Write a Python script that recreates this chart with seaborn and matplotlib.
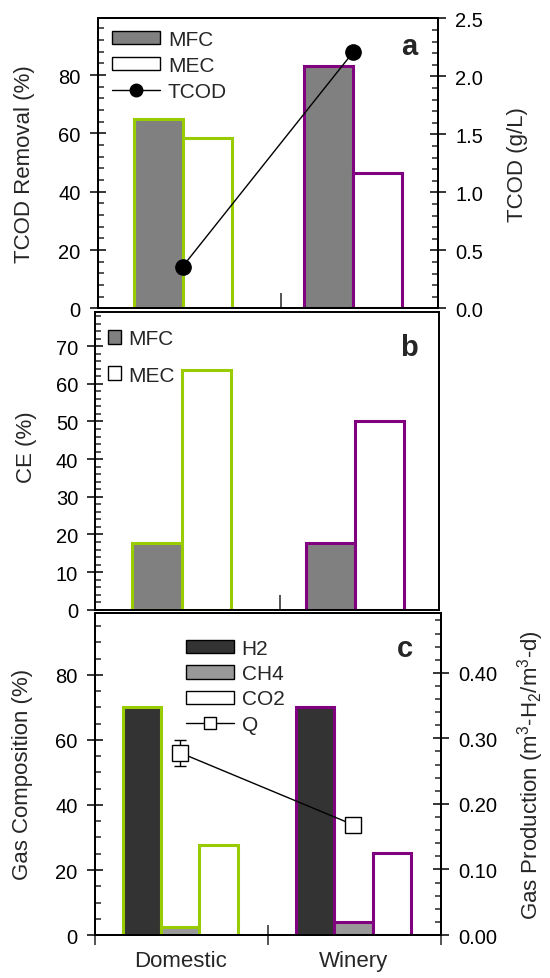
import pandas as pd
import seaborn as sns
import matplotlib.pyplot as plt
from matplotlib.patches import Patch
from matplotlib.lines import Line2D
from matplotlib.ticker import (MultipleLocator, FixedLocator, FixedFormatter,
                               NullFormatter, NullLocator, FormatStrFormatter)

# Values
wastewater = ["Domestic", "Winery"]
cells = ["MFC", "MEC"]
tcod_removal_mfc = [65.0, 83.2]
tcod_removal_mec = [58.3, 46.6]
tcod_conc = [0.36, 2.21]
tcod_conc_err = [0.0, 0.04]
ce_mfc = [17.8, 17.8]
ce_mec = [63.8, 50.0]
gases = ["H2", "CH4", "CO2"]
h2_pct = [70.0, 70.0]
ch4_pct = [2.5, 4.1]
co2_pct = [27.7, 25.1]
q_rate = [0.278, 0.168]
q_err = [0.0195, 0.004]

green = "#99cc00"
purple = "#800080"
edge_colors = [green, purple]

sns.set_style("ticks")
plt.rcParams["font.family"] = ["Liberation Sans", "DejaVu Sans"]
plt.rcParams["mathtext.fontset"] = "custom"
plt.rcParams["mathtext.rm"] = "Liberation Sans"
plt.rcParams["mathtext.it"] = "Liberation Sans:italic"
plt.rcParams["mathtext.default"] = "regular"
plt.rcParams["axes.linewidth"] = 1.4
plt.rcParams["axes.edgecolor"] = "black"

TICK_FS = 14.5
LABEL_FS = 16
LEG_FS = 15


def draw_bars(ax, series, values, fills, width):
    df = pd.DataFrame({
        "Wastewater": wastewater * len(series),
        "Series": [s for s in series for _ in wastewater],
        "Value": [v for vals in values for v in vals],
    })
    sns.barplot(data=df, x="Wastewater", y="Value", hue="Series",
                order=wastewater, hue_order=series,
                palette=dict(zip(series, fills)), width=width,
                saturation=1, errorbar=None, legend=False, ax=ax)
    for cont in ax.containers:
        for bar, ec in zip(cont, edge_colors):
            bar.set_edgecolor(ec)
            bar.set_linewidth(2.2)


def style_y(ax, major, minor, fmt=None):
    ax.yaxis.set_major_locator(MultipleLocator(major))
    ax.yaxis.set_minor_locator(MultipleLocator(minor))
    if fmt:
        ax.yaxis.set_major_formatter(FormatStrFormatter(fmt))
    ax.tick_params(axis="y", which="major", direction="inout", length=11,
                   width=1.1, labelsize=TICK_FS, pad=7, colors="black")
    ax.tick_params(axis="y", which="minor", direction="in", length=4.5,
                   width=1.1)


fig = plt.figure(figsize=(5.5, 9.79), dpi=100)
ax_a = fig.add_axes([0.1782, 0.6839, 0.6182, 0.2964])
ax_b = fig.add_axes([0.1736, 0.3761, 0.6245, 0.3039])
ax_c = fig.add_axes([0.1727, 0.0439, 0.6291, 0.3294])

# ---- panel a: TCOD removal ----
draw_bars(ax_a, cells, [tcod_removal_mfc, tcod_removal_mec],
          ["#808080", "white"], 0.574)
ax_a.set_xlim(-0.495, 1.496)
ax_a.set_ylim(0, 99.5)
style_y(ax_a, 20, 4)
ax_a.xaxis.set_major_locator(FixedLocator([0.575]))
ax_a.xaxis.set_minor_locator(NullLocator())
ax_a.tick_params(axis="x", which="major", direction="in", length=11,
                 width=1.1, labelbottom=False)
ax_a.set_xlabel("")
ax_a.set_ylabel("TCOD Removal (%)", fontsize=LABEL_FS, va="center")
ax_a.yaxis.set_label_coords(-0.215, 0.5)

ax_a2 = ax_a.twinx()
ax_a2.errorbar([0, 1], tcod_conc, yerr=tcod_conc_err, color="black",
               marker="o", ms=11, lw=1, elinewidth=1, capsize=4)
ax_a2.set_ylim(0, 2.5)
style_y(ax_a2, 0.5, 0.1, "%.1f")
ax_a2.set_ylabel("TCOD (g/L)", fontsize=LABEL_FS, va="center")
ax_a2.yaxis.set_label_coords(1.235, 0.5)
ax_a2.legend(handles=[
    Patch(facecolor="#808080", edgecolor="black", lw=1, label="MFC"),
    Patch(facecolor="white", edgecolor="black", lw=1, label="MEC"),
    Line2D([], [], color="black", lw=1, marker="o", ms=9, label="TCOD")],
    loc="upper left", bbox_to_anchor=(0.04, 0.96), frameon=False,
    fontsize=LEG_FS, handlelength=2.3, handleheight=0.6, handletextpad=0.4,
    labelspacing=0.35, borderpad=0, borderaxespad=0)
ax_a2.text(0.94, 0.877, "a", transform=ax_a2.transAxes, ha="right",
           va="baseline", fontsize=21, fontweight="bold")

# ---- panel b: coulombic efficiency ----
draw_bars(ax_b, cells, [ce_mfc, ce_mec], ["#808080", "white"], 0.57)
ax_b.set_xlim(-0.496, 1.484)
ax_b.set_ylim(0, 79)
style_y(ax_b, 10, 2)
ax_b.xaxis.set_major_locator(FixedLocator([0.568]))
ax_b.xaxis.set_minor_locator(NullLocator())
ax_b.tick_params(axis="x", which="major", direction="in", length=11,
                 width=1.1, labelbottom=False)
ax_b.set_xlabel("")
ax_b.set_ylabel("CE (%)", fontsize=LABEL_FS, va="center")
ax_b.yaxis.set_label_coords(-0.202, 0.55)
ax_b.legend(handles=[
    Patch(facecolor="#808080", edgecolor="black", lw=1, label="MFC"),
    Patch(facecolor="white", edgecolor="black", lw=1, label="MEC")],
    loc="upper left", bbox_to_anchor=(0.035, 0.944), frameon=False,
    fontsize=LEG_FS, handlelength=0.65, handleheight=0.65, handletextpad=0.35,
    labelspacing=0.85, borderpad=0, borderaxespad=0)
ax_b.text(0.938, 0.856, "b", transform=ax_b.transAxes, ha="right",
          va="baseline", fontsize=21, fontweight="bold")

# ---- panel c: gas composition ----
draw_bars(ax_c, gases, [h2_pct, ch4_pct, co2_pct],
          ["#333333", "#999999", "white"], 0.664)
ax_c.set_xlim(-0.492, 1.505)
ax_c.set_ylim(0, 99.2)
style_y(ax_c, 20, 5)
ax_c.xaxis.set_major_locator(FixedLocator([-0.492, 0.507, 1.505]))
ax_c.xaxis.set_major_formatter(NullFormatter())
ax_c.xaxis.set_minor_locator(FixedLocator([0, 1]))
ax_c.xaxis.set_minor_formatter(FixedFormatter(wastewater))
ax_c.tick_params(axis="x", which="major", direction="inout", length=14,
                 width=1.1)
ax_c.tick_params(axis="x", which="minor", length=0, pad=11,
                 labelsize=16)
ax_c.set_xlabel("")
ax_c.set_ylabel("Gas Composition (%)", fontsize=LABEL_FS, va="center")
ax_c.yaxis.set_label_coords(-0.209, 0.5)

ax_c2 = ax_c.twinx()
ax_c2.errorbar([0, 1], q_rate, yerr=q_err, color="black", marker="s",
               ms=11, mfc="white", mec="black", mew=1, lw=1, elinewidth=1,
               capsize=4.5)
ax_c2.set_ylim(0, 0.492)
style_y(ax_c2, 0.1, 0.02, "%.2f")
ax_c2.set_ylabel("Gas Production (m$^3$-H$_2$/m$^3$-d)", fontsize=LABEL_FS,
                 va="center")
ax_c2.yaxis.set_label_coords(1.258, 0.5)
ax_c2.legend(handles=[
    Patch(facecolor="#333333", edgecolor="black", lw=1, label="H2"),
    Patch(facecolor="#999999", edgecolor="black", lw=1, label="CH4"),
    Patch(facecolor="white", edgecolor="black", lw=1, label="CO2"),
    Line2D([], [], color="black", lw=1, marker="s", ms=9, mfc="white",
           mec="black", label="Q")],
    loc="upper left", bbox_to_anchor=(0.264, 0.918), frameon=False,
    fontsize=LEG_FS, handlelength=2.3, handleheight=0.6, handletextpad=0.35,
    labelspacing=0.3, borderpad=0, borderaxespad=0)
ax_c2.text(0.919, 0.866, "c", transform=ax_c2.transAxes, ha="right",
           va="baseline", fontsize=21, fontweight="bold")

fig.savefig("out.png", dpi=100)
